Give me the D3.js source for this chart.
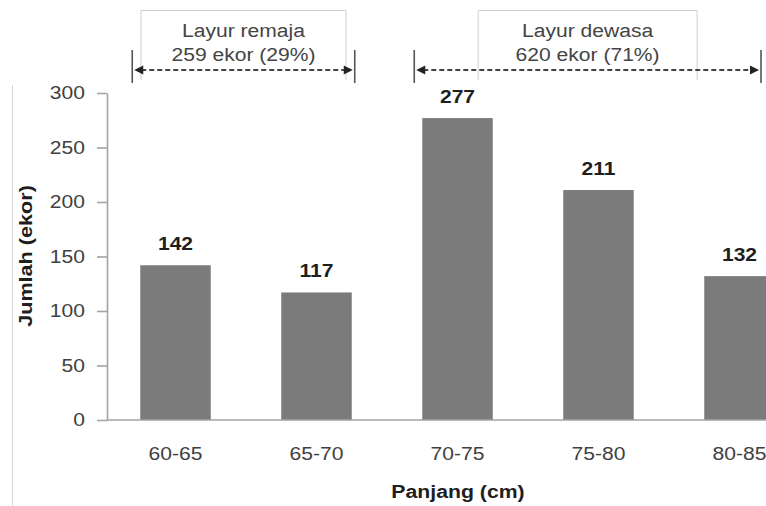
<!DOCTYPE html>
<html>
<head>
<meta charset="utf-8">
<script src="https://cdn.jsdelivr.net/npm/d3@7"></script>
<style>
  html, body { margin: 0; padding: 0; background: #fff; }
  svg { display: block; font-family: "Liberation Sans", Arial, sans-serif; }
</style>
</head>
<body>
<script>
// ---- data ----
const categories = ["60-65", "65-70", "70-75", "75-80", "80-85"];
const counts = [142, 117, 277, 211, 132];
const yTicks = [0, 50, 100, 150, 200, 250, 300];
const groupNames = ["Layur remaja", "Layur dewasa"];
const groupCounts = [259, 620];
const groupPercents = [29, 71];
const groupFirst = ["60-65", "70-75"];
const groupLast = ["65-70", "80-85"];
const xTitle = "Panjang (cm)";
const yTitle = "Jumlah (ekor)";

// ---- layout ----
const W = 766, H = 506;
const K = 1.17; // horizontal stretch of the text in the reference
const boxW = [205, 219];

const svg = d3.select("body").append("svg").attr("width", W).attr("height", H);

function stretch(sel, k = K) {
  sel.each(function () {
    const L = this.getComputedTextLength();
    this.setAttribute("textLength", L * k);
    this.setAttribute("lengthAdjust", "spacingAndGlyphs");
  });
}

const x = d3.scaleBand().domain(categories).range([105, 810]).paddingInner(0.5).paddingOuter(0.25);
const y = d3.scaleLinear().domain([0, 300]).range([420, 93]);

// left frame line
svg.append("line").attr("x1", 12.5).attr("x2", 12.5).attr("y1", 85).attr("y2", H)
  .attr("stroke", "#d6d6d6").attr("stroke-width", 1);

// bars
svg.append("g").selectAll("rect").data(counts).join("rect")
  .attr("x", (d, i) => x(categories[i]))
  .attr("width", x.bandwidth())
  .attr("y", d => y(d))
  .attr("height", d => y(0) - y(d))
  .attr("fill", "#7b7b7b");

// value labels
const vl = svg.append("g").selectAll("text").data(counts).join("text")
  .attr("x", (d, i) => x(categories[i]) + x.bandwidth() / 2)
  .attr("y", d => y(d) - 15.5)
  .attr("text-anchor", "middle")
  .attr("font-size", 18).attr("font-weight", "bold").attr("fill", "#1e1e1e")
  .text(d => d);
stretch(vl);

// y axis
const yAxis = svg.append("g").attr("transform", "translate(107,0)")
  .call(d3.axisLeft(y).tickValues(yTicks).tickSize(10).tickSizeOuter(0).tickPadding(12));
yAxis.select(".domain").attr("stroke", "#a3a3a3").attr("stroke-width", 1.6);
yAxis.selectAll(".tick line").attr("stroke", "#a3a3a3").attr("stroke-width", 1.6);
yAxis.selectAll(".tick text").attr("font-size", 18).attr("fill", "#404040")
  .attr("font-family", "'Liberation Sans', Arial, sans-serif");
stretch(yAxis.selectAll(".tick text"));

// x axis
const xAxis = svg.append("g").attr("transform", "translate(0,420)")
  .call(d3.axisBottom(x).tickSize(0).tickPadding(27));
xAxis.select(".domain").attr("stroke", "#a3a3a3").attr("stroke-width", 1.6)
  .attr("d", `M107,0H${W}`);
xAxis.selectAll(".tick text").attr("font-size", 18).attr("fill", "#404040")
  .attr("font-family", "'Liberation Sans', Arial, sans-serif");
stretch(xAxis.selectAll(".tick text"));

// axis titles
const xt = svg.append("text").attr("x", 458).attr("y", 498).attr("text-anchor", "middle")
  .attr("font-size", 18).attr("font-weight", "bold").attr("fill", "#1e1e1e").text(xTitle);
stretch(xt, 1.18);
const yt = svg.append("text").attr("transform", "translate(32,256) rotate(-90)")
  .attr("text-anchor", "middle")
  .attr("font-size", 18).attr("font-weight", "bold").attr("fill", "#1e1e1e").text(yTitle);
stretch(yt, 1.2);

// group annotations
const defs = svg.append("defs");
const arrowY = 70;
groupNames.forEach((name, i) => {
  const x0 = x(groupFirst[i]) - 8;
  const x1 = Math.min(x(groupLast[i]) + x.bandwidth() + 3, W - 5);
  const cx = (x0 + x1) / 2;
  const g = svg.append("g");
  // text box (top and sides)
  const bw = boxW[i];
  g.append("path")
    .attr("d", `M${cx - bw / 2},80V10.5H${cx + bw / 2}V80`)
    .attr("fill", "none").attr("stroke", "#cfcfcf").attr("stroke-width", 1);
  // bracket end bars
  [x0, x1].forEach(xx => {
    g.append("line").attr("x1", xx).attr("x2", xx).attr("y1", 50).attr("y2", 83)
      .attr("stroke", "#555").attr("stroke-width", 1.6);
  });
  // dotted line
  g.append("line").attr("x1", x0 + 9).attr("x2", x1 - 9).attr("y1", arrowY).attr("y2", arrowY)
    .attr("stroke", "#444").attr("stroke-width", 2).attr("stroke-dasharray", "5,3");
  // arrowheads
  g.append("path").attr("d", `M${x0 + 2},${arrowY}L${x0 + 11},${arrowY - 4.5}L${x0 + 11},${arrowY + 4.5}Z`)
    .attr("fill", "#222");
  g.append("path").attr("d", `M${x1 - 2},${arrowY}L${x1 - 11},${arrowY - 4.5}L${x1 - 11},${arrowY + 4.5}Z`)
    .attr("fill", "#222");
  // text
  const t1 = g.append("text").attr("x", cx).attr("y", 37).attr("text-anchor", "middle")
    .attr("font-size", 18).attr("fill", "#444").text(name);
  const t2 = g.append("text").attr("x", cx).attr("y", 61).attr("text-anchor", "middle")
    .attr("font-size", 18).attr("fill", "#444")
    .text(`${groupCounts[i]} ekor (${groupPercents[i]}%)`);
  stretch(t1); stretch(t2);
});
</script>
</body>
</html>
